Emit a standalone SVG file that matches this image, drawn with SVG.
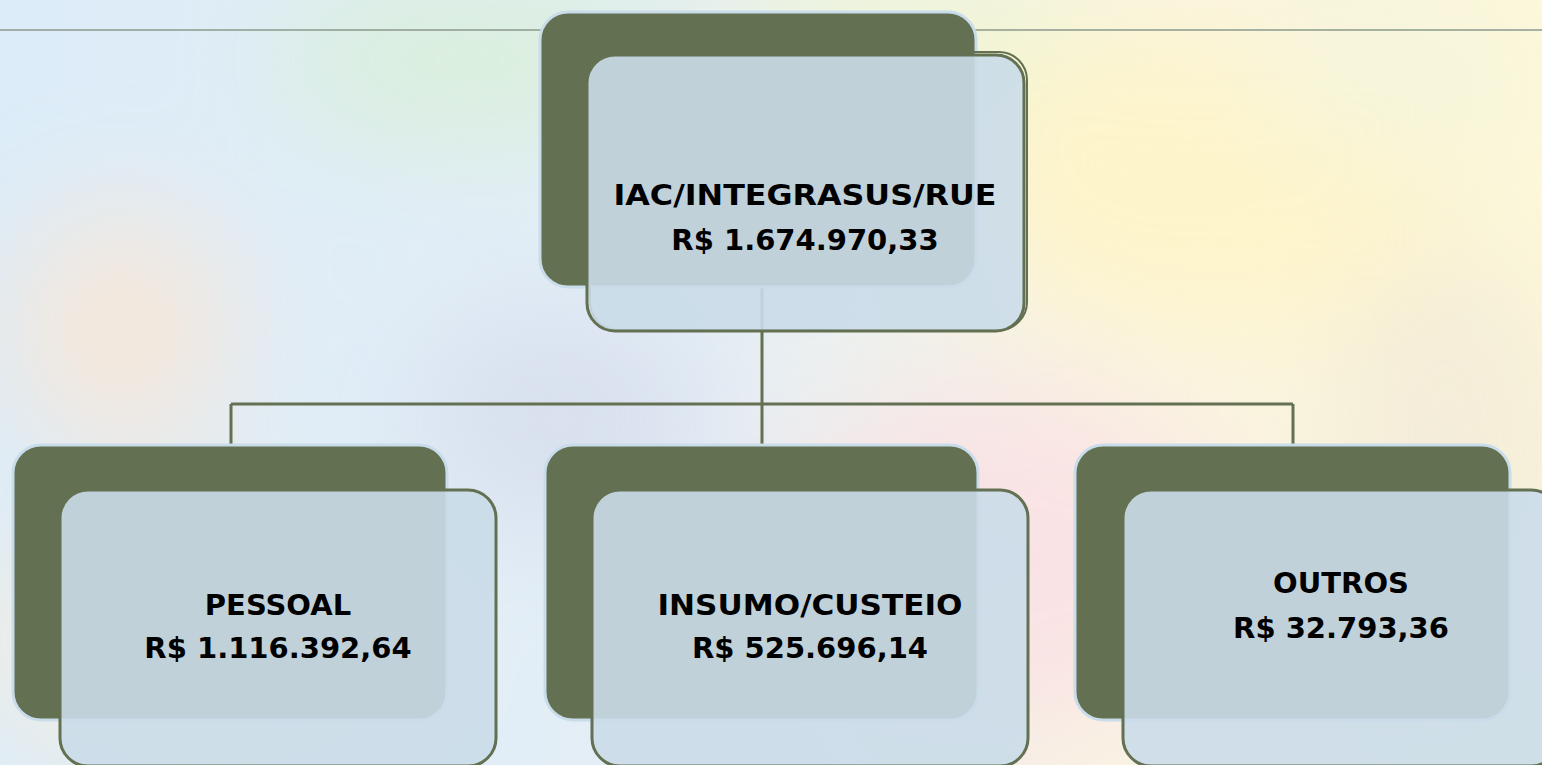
<svg xmlns="http://www.w3.org/2000/svg" width="1542" height="765" viewBox="0 0 1542 765">
<defs>
<filter id="blur" x="-50%" y="-50%" width="200%" height="200%"><feGaussianBlur stdDeviation="60"/></filter>
<linearGradient id="bg" x1="0" y1="0" x2="1" y2="0">
<stop offset="0" stop-color="#dcecf8"/>
<stop offset="0.45" stop-color="#e4eef6"/>
<stop offset="0.7" stop-color="#f8f4e4"/>
<stop offset="1" stop-color="#fdf8da"/>
</linearGradient>
<style>
.back{fill:#637052;stroke:#c9dcea;stroke-width:3}
.front{fill:#cadce9;fill-opacity:0.9;stroke:#637052;stroke-width:3}
.lbl{font-family:"DejaVu Sans","Liberation Sans",sans-serif;font-weight:bold;font-size:29px;fill:#000;text-anchor:middle}
.conn{fill:none;stroke:#637052;stroke-width:3}
</style>
</defs>
<g id="background">
<rect x="0" y="0" width="1542" height="765" fill="url(#bg)"/>
<g filter="url(#blur)" opacity="0.8">
<ellipse cx="470" cy="60" rx="200" ry="80" fill="#d8f0d4"/>
<ellipse cx="900" cy="40" rx="200" ry="70" fill="#eef6d0"/>
<ellipse cx="1200" cy="180" rx="250" ry="150" fill="#fff4c4"/>
<ellipse cx="1000" cy="560" rx="230" ry="170" fill="#fbdfe4"/>
<ellipse cx="120" cy="330" rx="110" ry="120" fill="#fde6d2"/>
<ellipse cx="200" cy="640" rx="220" ry="120" fill="#fdeed8"/>
<ellipse cx="1450" cy="450" rx="120" ry="200" fill="#f2ead8"/>
<ellipse cx="560" cy="420" rx="140" ry="110" fill="#d6dcec"/>
<ellipse cx="1400" cy="80" rx="150" ry="80" fill="#f4f4dc"/>
</g>
<line x1="0" y1="30" x2="1542" y2="30" stroke="#8c9a8c" stroke-width="1.5"/>
</g>
<g id="connectors">
<path class="conn" d="M762 287 V404 M231 404 H1293 M231 404 V446 M762 404 V446 M1293 404 V446"/>
</g>
<g id="node-top">
<rect class="back" x="540" y="12" width="436" height="275" rx="28"/>
<rect x="590" y="52" width="437" height="278" rx="28" fill="none" stroke="#637052" stroke-width="2"/>
<rect class="front" x="587" y="55" width="437" height="276" rx="28"/>
<text class="lbl" x="805" y="205" textLength="383" lengthAdjust="spacingAndGlyphs">IAC/INTEGRASUS/RUE</text>
<text class="lbl" x="805" y="250">R$ 1.674.970,33</text>
</g>
<g id="node-pessoal">
<rect class="back" x="13" y="445" width="434" height="275" rx="28"/>
<rect class="front" x="60" y="490" width="436" height="276" rx="28"/>
<text class="lbl" x="278" y="615">PESSOAL</text>
<text class="lbl" x="278" y="658">R$ 1.116.392,64</text>
</g>
<g id="node-insumo">
<rect class="back" x="545" y="445" width="433" height="275" rx="28"/>
<rect class="front" x="592" y="490" width="436" height="276" rx="28"/>
<text class="lbl" x="810" y="615" textLength="305" lengthAdjust="spacingAndGlyphs">INSUMO/CUSTEIO</text>
<text class="lbl" x="810" y="658">R$ 525.696,14</text>
</g>
<g id="node-outros">
<rect class="back" x="1075" y="445" width="435" height="275" rx="28"/>
<rect class="front" x="1123" y="490" width="436" height="276" rx="28"/>
<text class="lbl" x="1341" y="593">OUTROS</text>
<text class="lbl" x="1341" y="638">R$ 32.793,36</text>
</g>
</svg>
